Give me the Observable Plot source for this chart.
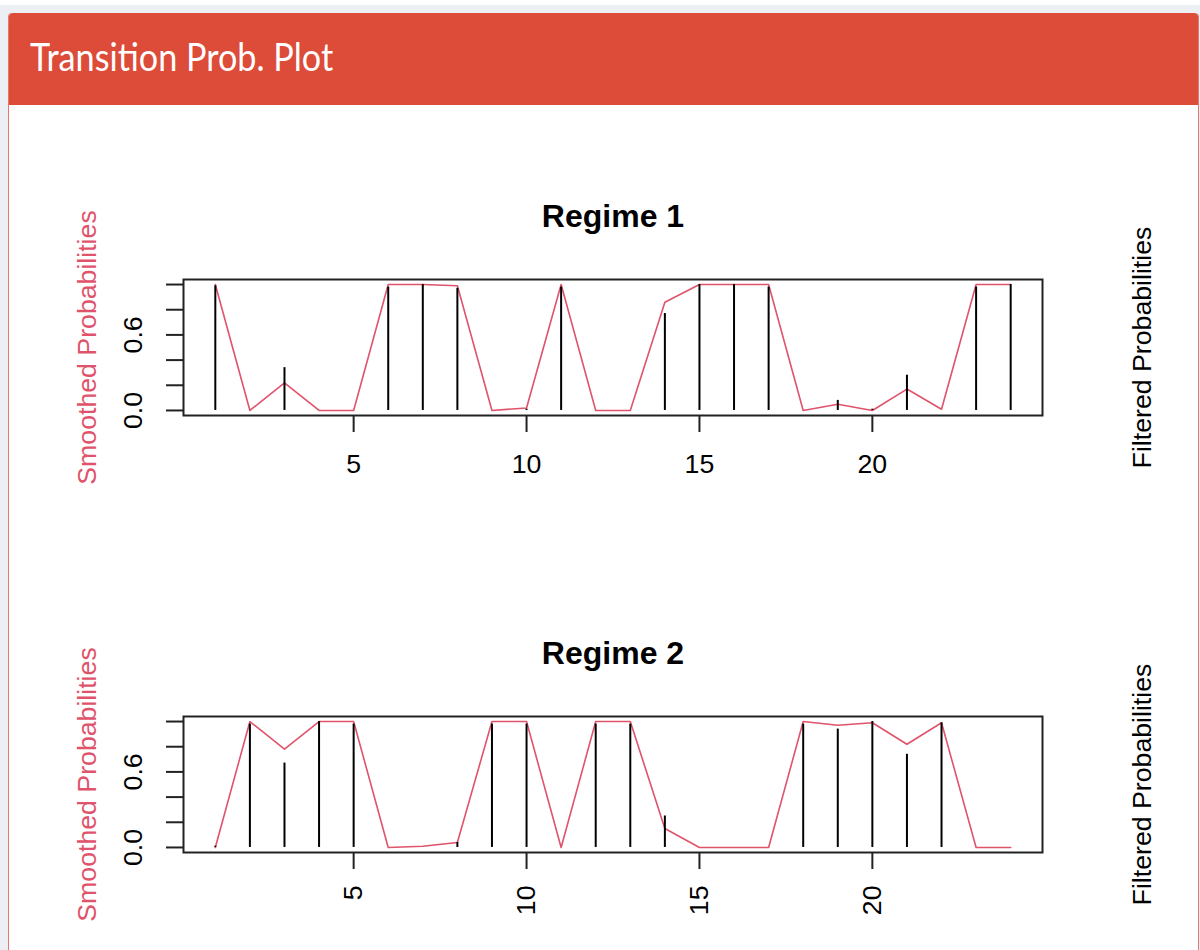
<!DOCTYPE html>
<html>
<head>
<meta charset="utf-8">
<script src="https://cdn.jsdelivr.net/npm/d3@7"></script>
<script src="https://cdn.jsdelivr.net/npm/@observablehq/plot@0.6"></script>
<style>
  html, body { margin: 0; padding: 0; background: #ecf0f5; width: 1200px; height: 950px; overflow: hidden; }
  #topstrip { position: absolute; left: 0; top: 0; width: 1200px; height: 5px; background: #ffffff; }
  #box { position: absolute; left: 8px; top: 13px; width: 1189px; height: 960px; background: #ffffff;
         border: 1px solid #e8766b; border-top: none; border-radius: 4px 4px 0 0; }
  #header { position: absolute; left: 0; top: 0; width: 100%; height: 92px; background: #dd4b39; border-radius: 4px 4px 0 0; }
  #header h3 { margin: 0; position: absolute; left: 21px; top: 17px; color: #ffffff;
               font-family: Lato, "Open Sans", sans-serif; font-weight: 400; font-size: 38px; line-height: 52px;
               transform: scaleX(0.9); transform-origin: 0 50%; white-space: nowrap; }
  .panel { position: absolute; left: 0; }
</style>
</head>
<body>
<div id="topstrip"></div>
<div id="box"><div id="header"><h3>Transition Prob. Plot</h3></div></div>
<div id="p1" class="panel" style="top:130px"></div>
<div id="p2" class="panel" style="top:570px"></div>
<script>
// ---- data ----
const periods = [1,2,3,4,5,6,7,8,9,10,11,12,13,14,15,16,17,18,19,20,21,22,23,24];
const regimeTitles = ["Regime 1", "Regime 2"];
const smoothed1 = [1.00,0.00,0.22,0.00,0.00,1.00,1.00,0.99,0.00,0.02,1.00,0.00,0.00,0.86,1.00,1.00,1.00,0.00,0.05,0.00,0.17,0.01,1.00,1.00];
const filtered1 = [0.99,0.00,0.34,0.00,0.00,0.98,1.00,0.97,0.00,0.01,0.98,0.00,0.00,0.77,1.00,1.00,0.98,0.00,0.08,0.01,0.28,0.00,0.98,1.00];
const smoothed2 = [0.00,1.00,0.78,1.00,1.00,0.00,0.01,0.04,1.00,1.00,0.00,1.00,1.00,0.15,0.00,0.00,0.00,1.00,0.97,0.99,0.82,0.99,0.00,0.00];
const filtered2 = [0.01,0.98,0.67,1.00,0.98,0.00,0.00,0.04,0.98,0.98,0.00,0.98,0.98,0.25,0.00,0.00,0.00,0.98,0.94,1.00,0.74,0.99,0.00,0.00];
const xTicks = [5,10,15,20];
const xTickLabels = ["5","10","15","20"];
const yTicks = [0,0.2,0.4,0.6,0.8,1.0];
const yLabelValues = [0,0.6];
const yLabelTexts = ["0.0","0.6"];
const leftLabel = "Smoothed Probabilities";
const rightLabel = "Filtered Probabilities";

const RED = "#DF536B";
const FONT = "'Liberation Sans', Arial, sans-serif";
const FS = 26.7;

function panel(title, smoothed, filtered, rotatedX, geom) {
  const rows = periods.map((t, i) => ({t, s: smoothed[i], f: filtered[i]}));
  const marks = [
    Plot.line(rows, {x: "t", y: "s", stroke: RED, strokeWidth: 1.6}),
    Plot.ruleX(rows, {x: "t", y1: 0, y2: "f", stroke: "#000", strokeWidth: 2}),
    Plot.frame({stroke: "#222", strokeWidth: 2}),
    Plot.axisY(yTicks, {tickSize: 17, tickFormat: () => "", stroke: "#222", strokeWidth: 2}),
    Plot.text(yLabelValues, {y: d => d, text: (d, i) => yLabelTexts[i], frameAnchor: "left", dx: -50,
      rotate: -90, textAnchor: "middle", lineAnchor: "middle", fontSize: FS, fill: "#000"}),
    Plot.text([title], {text: d => d, frameAnchor: "top", dy: -63, lineAnchor: "middle",
      fontWeight: "bold", fontSize: 32, fill: "#000"}),
    Plot.text([leftLabel], {text: d => d, frameAnchor: "left", dx: -96, rotate: -90,
      textAnchor: "middle", lineAnchor: "middle", fontSize: FS, fill: RED}),
    Plot.text([rightLabel], {text: d => d, frameAnchor: "right", dx: 100, rotate: -90,
      textAnchor: "middle", lineAnchor: "middle", fontSize: FS, fill: "#000"})
  ];
  if (rotatedX) {
    marks.push(Plot.axisX(xTicks, {tickSize: 17, tickFormat: () => "", stroke: "#222", strokeWidth: 2}));
    marks.push(Plot.text(xTicks, {x: d => d, text: (d, i) => xTickLabels[i], frameAnchor: "bottom", dy: 33,
      rotate: -90, textAnchor: "end", lineAnchor: "middle", fontSize: FS, fill: "#000"}));
  } else {
    marks.push(Plot.axisX(xTicks, {tickSize: 17, tickPadding: 22, tickFormat: (d) => xTickLabels[xTicks.indexOf(d)],
      stroke: "#222", strokeWidth: 2, fontSize: FS, fill: "#000"}));
  }
  return Plot.plot({
    width: 1200,
    height: geom.height,
    marginLeft: 183,
    marginRight: 158,
    marginTop: geom.top,
    marginBottom: geom.bottom,
    x: {domain: [0.08, 24.92], label: null},
    y: {domain: [-0.04, 1.04], label: null},
    style: {fontFamily: FONT, fontSize: FS + "px", background: "transparent", color: "#000", overflow: "visible"},
    marks
  });
}

document.getElementById("p1").appendChild(panel(regimeTitles[0], smoothed1, filtered1, false, {height: 400, top: 149, bottom: 115}));
document.getElementById("p2").appendChild(panel(regimeTitles[1], smoothed2, filtered2, true, {height: 380, top: 146, bottom: 98}));
</script>
</body>
</html>
